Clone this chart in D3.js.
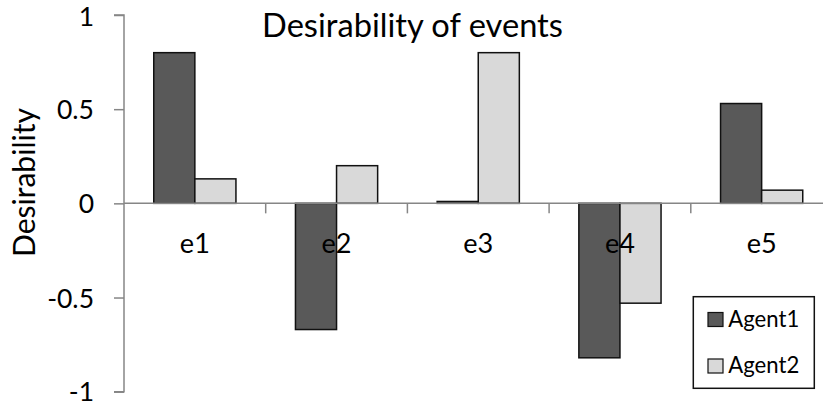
<!DOCTYPE html>
<html><head><meta charset="utf-8">
<script src="https://cdn.jsdelivr.net/npm/d3@7"></script>
<style>html,body{margin:0;padding:0;background:#fff;overflow:hidden}svg{display:block}text{font-family:Lato,"Open Sans",sans-serif;fill:#000}</style>
</head><body><svg id="c" width="823" height="406"></svg>
<script>
const categories = ["e1","e2","e3","e4","e5"];
const seriesNames = ["Agent1","Agent2"];
const agent1 = [0.80,-0.67,0.01,-0.82,0.53];
const agent2 = [0.13,0.20,0.80,-0.53,0.07];
const yTicks = [-1,-0.5,0,0.5,1];
const yTickLabels = ["-1","-0.5","0","0.5","1"];
const title = "Desirability of events";
const yTitle = "Desirability";
const colors = {Agent1:"#595959", Agent2:"#d9d9d9"};

const svg = d3.select("#c");
function fit(sel, target){ // size text to target width
  const n = sel.node(); const w = n.getComputedTextLength();
  const fs = parseFloat(sel.attr("font-size"));
  sel.attr("font-size", (fs*target/w).toFixed(2));
}
const y = d3.scaleLinear().domain([-1,1]).range([391.7,15]);
const x = d3.scaleBand().domain(categories).range([124,832.5]).paddingInner(0.42).paddingOuter(0.21);
const xs = d3.scaleBand().domain(seriesNames).range([0,x.bandwidth()]);
const step = x.step();
const x0 = x.range()[0];

// bars
const data = categories.map((c,i)=>({c, vals:[{s:"Agent1",v:agent1[i]},{s:"Agent2",v:agent2[i]}]}));
const gBars = svg.append("g");
data.forEach(d=>{
  gBars.selectAll(null).data(d.vals).join("rect")
    .attr("x", v=>x(d.c)+xs(v.s))
    .attr("width", xs.bandwidth())
    .attr("y", v=>Math.min(y(v.v),y(0)))
    .attr("height", v=>Math.abs(y(v.v)-y(0)))
    .attr("fill", v=>colors[v.s])
    .attr("stroke","#111").attr("stroke-width",1.5);
});

// y axis
const yAxis = svg.append("g").attr("transform",`translate(${x0},0)`)
  .call(d3.axisLeft(y).tickValues(yTicks).tickSize(10).tickPadding(20).tickFormat((d,i)=>yTickLabels[i]));
yAxis.select(".domain").attr("stroke","#868686").attr("stroke-width",1.5).attr("d",`M-10,${y(1)}H0V${y(-1)}H-10`);
yAxis.selectAll(".tick line").attr("stroke","#868686").attr("stroke-width",1.5);
yAxis.selectAll(".tick text").attr("font-size",26).attr("font-family","Lato").attr("fill","#000").attr("dy",null)
  .attr("y", d=>Math.min(Math.max(y(d)+9.5, 25.5), 400.2) - y(d));
fit(yAxis.selectAll(".tick").filter(d=>d===0.5).select("text"),37);
const tfs = yAxis.selectAll(".tick").filter(d=>d===0.5).select("text").attr("font-size");
yAxis.selectAll(".tick text").attr("font-size",tfs);

// x axis
const xAxisY = y(0);
const gx = svg.append("g");
gx.append("line").attr("x1",x0).attr("x2",x.range()[1]).attr("y1",xAxisY).attr("y2",xAxisY)
  .attr("stroke","#868686").attr("stroke-width",1.5);
gx.selectAll(".xt").data(categories).join("line").attr("class","xt")
  .attr("x1",(d,i)=>x0+step*(i+1)).attr("x2",(d,i)=>x0+step*(i+1))
  .attr("y1",xAxisY).attr("y2",xAxisY+10).attr("stroke","#868686").attr("stroke-width",1.5);
const catLabels = gx.selectAll(".xl").data(categories).join("text").attr("class","xl")
  .attr("x",d=>x(d)+x.bandwidth()/2).attr("y",253.3).attr("text-anchor","middle")
  .attr("font-size",26).text(d=>d);
fit(catLabels.filter((d,i)=>i===0),30);
catLabels.attr("font-size", catLabels.filter((d,i)=>i===0).attr("font-size"));

// title
const t = svg.append("text").attr("x",412.5).attr("y",37.3).attr("text-anchor","middle").attr("font-size",30).text(title);
fit(t,301);

// y title
const yt = svg.append("text").attr("transform","translate(35,182.5) rotate(-90)").attr("text-anchor","middle").attr("font-size",26).text(yTitle);
fit(yt,149);

// legend
const lg = svg.append("g");
lg.append("rect").attr("x",693.3).attr("y",296.7).attr("width",121).attr("height",91.6)
  .attr("fill","#fff").attr("stroke","#111").attr("stroke-width",1.5);
const ly = d3.scalePoint().domain(seriesNames).range([319.5,366]);
seriesNames.forEach(s=>{
  lg.append("rect").attr("x",708).attr("y",ly(s)-7).attr("width",15).attr("height",14)
    .attr("fill",colors[s]).attr("stroke","#111").attr("stroke-width",1.2);
});
const lt = lg.selectAll(".lt").data(seriesNames).join("text").attr("class","lt")
  .attr("x",728.3).attr("y",s=>ly(s)+7.2).attr("font-size",24).text(s=>s);
fit(lt.filter((d,i)=>i===0),71);
lt.attr("font-size", lt.filter((d,i)=>i===0).attr("font-size"));
</script></body></html>
